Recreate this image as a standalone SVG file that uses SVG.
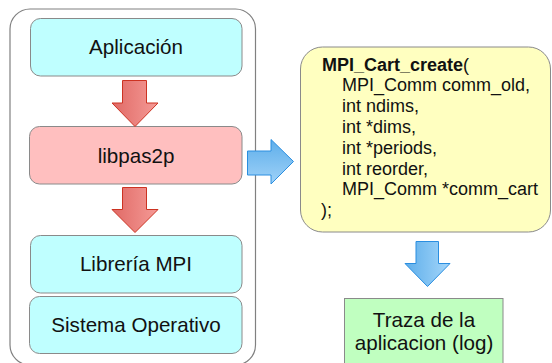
<svg xmlns="http://www.w3.org/2000/svg" width="552" height="363" viewBox="0 0 552 363">
<style>
.box{stroke:#8a8a8a;stroke-width:1}
.cyan{fill:#bfffff}
.pink{fill:#ffbfbf}
.lbl{font-family:"Liberation Sans",Arial,sans-serif;font-size:20.6px;fill:#111;text-anchor:middle}
.code{font-family:"Liberation Sans",Arial,sans-serif;font-size:18px;fill:#111}
.red{fill:url(#gRed);stroke:#cc3322;stroke-width:1}
.blue{stroke:#2a8ee0;stroke-width:1}
</style>
<defs>
<linearGradient id="gRed" x1="0" y1="0" x2="1" y2="0">
<stop offset="0" stop-color="#e06a66"/>
<stop offset="1" stop-color="#f59a96"/>
</linearGradient>
<linearGradient id="gBlueV" x1="0" y1="0" x2="0" y2="1">
<stop offset="0" stop-color="#5eaeea"/>
<stop offset="1" stop-color="#9fd2f8"/>
</linearGradient>
<linearGradient id="gBlueH" x1="0" y1="0" x2="1" y2="0">
<stop offset="0" stop-color="#5eaeea"/>
<stop offset="1" stop-color="#a4d6fa"/>
</linearGradient>
</defs>
<rect width="552" height="363" fill="#ffffff"/>
<g id="container">
<rect x="10" y="9" width="245.5" height="356" rx="20" fill="#ffffff" stroke="#808080" stroke-width="1.2"/>
</g>
<g id="aplicacion">
<rect class="box cyan" x="30.5" y="18.5" width="211.5" height="57.5" rx="10"/>
<text class="lbl" x="136" y="54">Aplicación</text>
</g>
<g id="libpas2p">
<rect class="box pink" x="29.5" y="126.5" width="212.5" height="57.5" rx="10"/>
<text class="lbl" x="136" y="163">libpas2p</text>
</g>
<g id="libreria">
<rect class="box cyan" x="30.5" y="235.5" width="211.5" height="57.5" rx="10"/>
<text class="lbl" x="136" y="271">Librería MPI</text>
</g>
<g id="sistema">
<rect class="box cyan" x="29.5" y="296.5" width="212.5" height="57" rx="10"/>
<text class="lbl" x="136" y="332">Sistema Operativo</text>
</g>
<g id="mpi_cart">
<rect x="300.5" y="47" width="250" height="185" rx="22" fill="#ffffc0" stroke="#8a8a8a" stroke-width="1"/>
<text class="code" x="322" y="70.5"><tspan font-weight="bold">MPI_Cart_create</tspan>(</text>
<text class="code" x="342" y="91.3">MPI_Comm comm_old,</text>
<text class="code" x="342" y="112.1">int ndims,</text>
<text class="code" x="342" y="132.9">int *dims,</text>
<text class="code" x="342" y="153.7">int *periods,</text>
<text class="code" x="342" y="174.5">int reorder,</text>
<text class="code" x="342" y="195.3">MPI_Comm *comm_cart</text>
<text class="code" x="321" y="216.1">);</text>
</g>
<g id="traza">
<rect x="344.5" y="298.5" width="158.5" height="70" fill="#c0ffc0" stroke="#8a8a8a" stroke-width="1"/>
<text class="lbl" x="424" y="327" font-size="18">Traza de la</text>
<text class="lbl" x="424" y="350" font-size="18">aplicacion (log)</text>
</g>
<g id="connectors">
<path class="red" d="M122.5,80.5 H146.5 V103 H158 L135,126.5 L112,103 H122.5 Z"/>
<path class="red" d="M122.5,187.5 H146.5 V209.5 H158 L135,232.5 L112,209.5 H122.5 Z"/>
<path class="blue" fill="url(#gBlueV)" d="M247.5,151 H271 V139.5 L293.5,161.5 L271,184 V175 H247.5 Z"/>
<path class="blue" fill="url(#gBlueH)" d="M416,241.5 H438.5 V263.5 H450 L427.5,286.5 L405,263.5 H416 Z"/>
</g>
</svg>
